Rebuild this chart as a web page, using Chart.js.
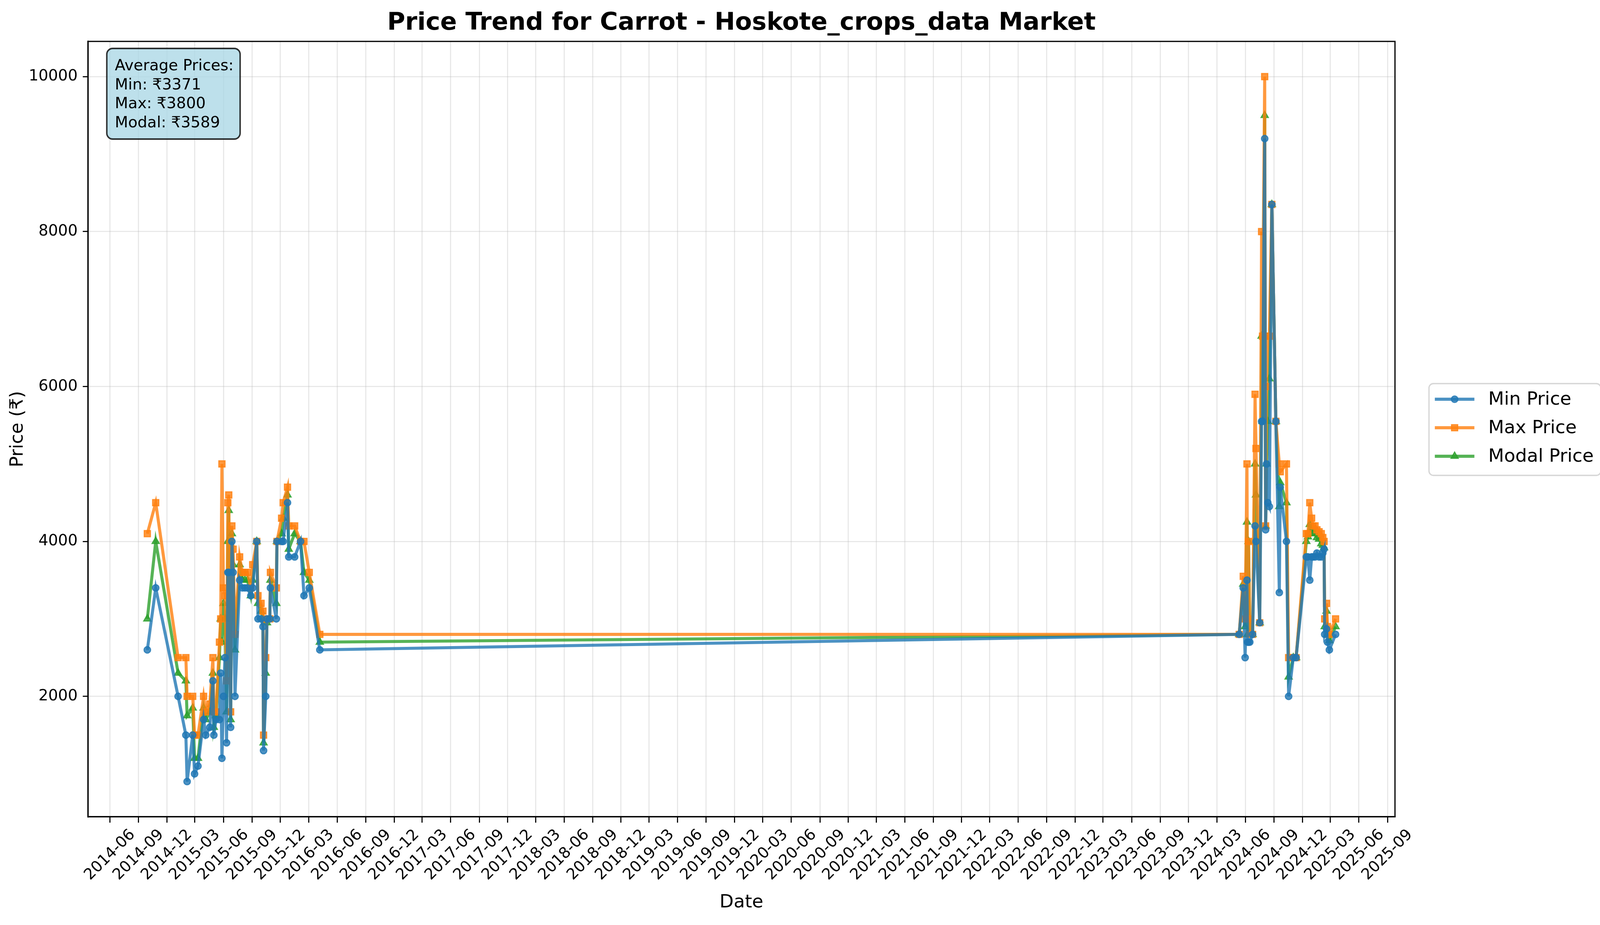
<!DOCTYPE html>
<html>
<head>
<meta charset="utf-8">
<script src="https://cdn.jsdelivr.net/npm/chart.js@4.4.1/dist/chart.umd.min.js"></script>
<style>
  html, body { margin: 0; padding: 0; background: #fff; overflow: hidden; }
  #wrap { position: relative; width: 100vw; height: 100vh; }
</style>
</head>
<body>
<div id="wrap"><canvas id="chart"></canvas></div>
<script>
const chartTitle = 'Price Trend for Carrot - Hoskote_crops_data Market';
const seriesNames = ['Min Price', 'Max Price', 'Modal Price'];
const avgLines = ['Average Prices:', 'Min: ₹3371', 'Max: ₹3800', 'Modal: ₹3589'];

const dates = [
  '2014-09-29','2014-10-26','2015-01-06','2015-01-31','2015-02-04','2015-02-22','2015-02-28','2015-03-11',
  '2015-03-29','2015-04-05','2015-04-18','2015-04-28','2015-05-01','2015-05-08','2015-05-19','2015-05-23',
  '2015-05-27','2015-06-01','2015-06-06','2015-06-11','2015-06-15','2015-06-18','2015-06-24','2015-06-28',
  '2015-07-02','2015-07-08','2015-07-23','2015-08-01','2015-08-09','2015-08-17','2015-08-28','2015-09-03',
  '2015-09-16','2015-09-20','2015-09-30','2015-10-06','2015-10-08','2015-10-15','2015-10-19','2015-10-28',
  '2015-10-30','2015-11-18','2015-11-20','2015-12-05','2015-12-10','2015-12-24','2015-12-28','2016-01-16',
  '2016-02-04','2016-02-15','2016-03-03','2016-04-06',
  '2024-05-12','2024-05-25','2024-05-31','2024-06-06','2024-06-08','2024-06-11','2024-06-15','2024-06-24',
  '2024-07-02','2024-07-05','2024-07-17','2024-07-23','2024-07-26','2024-08-02','2024-08-05','2024-08-08',
  '2024-08-12','2024-08-17','2024-08-25','2024-09-07','2024-09-18','2024-09-21','2024-10-11','2024-10-18',
  '2024-11-02','2024-11-11','2024-12-14','2024-12-19','2024-12-25','2024-12-31','2025-01-05','2025-01-11',
  '2025-01-17','2025-01-24','2025-01-31','2025-02-05','2025-02-09','2025-02-11','2025-02-17','2025-02-20',
  '2025-02-26','2025-03-18'
];

const minPrices = [
  2600,3400,2000,1500,900,1500,1000,1100,
  1700,1500,1600,2200,1500,1700,1700,2300,
  1200,2000,2500,1400,3600,3600,1600,4000,
  3600,2000,3500,3400,3400,3400,3300,3400,
  4000,3000,3000,2900,1300,2000,3000,3000,
  3400,3000,4000,4000,4000,4500,3800,3800,
  4000,3300,3400,2600,
  2800,3400,2500,3500,2700,2700,2700,2800,
  4200,4000,2950,5550,5550,9200,4150,5000,
  4500,4450,8350,5550,3340,4700,4000,2000,
  2500,2500,3800,3800,3500,3800,3800,3800,
  3850,3800,3800,3850,3900,2800,2870,2700,
  2600,2800
];

const maxPrices = [
  4100,4500,2500,2500,2000,2000,1500,1500,
  2000,1800,1900,2500,1800,1800,2700,3000,
  5000,3400,3300,2200,4500,4600,1800,4200,
  3900,2800,3800,3600,3600,3600,3400,3700,
  4000,3300,3200,3100,1500,2500,3000,3000,
  3600,3400,4000,4300,4500,4700,4200,4200,
  4000,4000,3600,2800,
  2800,3550,3000,5000,3000,4000,2800,2800,
  5900,5200,2950,8000,6650,10000,4200,6000,
  6650,6650,8350,5550,5000,4900,5000,2500,
  2500,2500,4100,4100,4500,4300,4200,4200,
  4150,4125,4100,4050,4000,3000,3200,2900,
  2800,3000
];

const modalPrices = [
  3000,4000,2300,2200,1750,1850,1200,1200,
  1850,1700,1800,2300,1600,1750,2500,3000,
  2700,3200,3000,1800,4000,4400,1700,4100,
  3700,2600,3700,3500,3500,3500,3300,3500,
  4000,3200,3100,3000,1400,2300,2950,3000,
  3500,3200,4000,4100,4300,4600,3900,4100,
  4000,3600,3500,2700,
  2800,3450,2900,4250,2800,4000,2800,2800,
  5000,4600,2950,6650,5550,9500,4200,5000,
  5550,6100,8350,5550,4450,4760,4500,2250,
  2500,2500,4000,4060,4220,4150,4100,4100,
  4050,4030,3970,3950,3920,2900,3100,2800,
  2720,2900
];

const tickLabels = [
  '2014-06','2014-09','2014-12','2015-03','2015-06','2015-09','2015-12','2016-03','2016-06','2016-09',
  '2016-12','2017-03','2017-06','2017-09','2017-12','2018-03','2018-06','2018-09','2018-12','2019-03',
  '2019-06','2019-09','2019-12','2020-03','2020-06','2020-09','2020-12','2021-03','2021-06','2021-09',
  '2021-12','2022-03','2022-06','2022-09','2022-12','2023-03','2023-06','2023-09','2023-12','2024-03',
  '2024-06','2024-09','2024-12','2025-03','2025-06','2025-09'
];
const yTicks = [2000, 4000, 6000, 8000, 10000];

const colors = ['rgba(31,119,180,0.8)', 'rgba(255,127,14,0.8)', 'rgba(44,160,44,0.8)'];
const markers = ['circle', 'rect', 'triangle'];

// layout was measured on the 4659x2368 reference; scale it to the actual viewport
const W = window.innerWidth || 4659;
const H = window.innerHeight || 2368;
const SX = W / 4659, SY = H / 2368, SF = Math.sqrt(SX * SY);
const sx = v => v * SX, sy = v => v * SY, sf = v => v * SF;
const markerSizes = [9, 12, 11.5].map(sf);

// date string -> day number
function toDay(s) {
  const p = s.split('-');
  return Date.UTC(+p[0], +p[1] - 1, p[2] ? +p[2] : 1) / 86400000;
}

const days = dates.map(toDay);
const tickDays = tickLabels.map(toDay);
const span = days[days.length - 1] - days[0];
const xMin = days[0] - span * 0.05;
const xMax = days[days.length - 1] + span * 0.05;
const allVals = minPrices.concat(maxPrices, modalPrices);
const vLo = Math.min(...allVals), vHi = Math.max(...allVals);
const yMin = vLo - (vHi - vLo) * 0.05;
const yMax = vHi + (vHi - vLo) * 0.05;

const FONT = 'DejaVu Sans';
Chart.defaults.font.family = FONT;
Chart.defaults.color = '#000';

function makeSet(i, values) {
  return {
    label: seriesNames[i],
    data: values.map((v, k) => ({ x: days[k], y: v })),
    borderColor: colors[i],
    backgroundColor: colors[i],
    pointBackgroundColor: colors[i],
    pointBorderColor: colors[i],
    borderWidth: sf(8.3),
    pointStyle: markers[i],
    pointRadius: markerSizes[i],
    pointBorderWidth: sf(3),
    tension: 0
  };
}

const decor = {
  id: 'decor',
  afterDraw(chart) {
    const ctx = chart.ctx;
    const a = chart.chartArea;
    ctx.save();

    // frame
    ctx.strokeStyle = '#000';
    ctx.lineWidth = sf(3.3);
    ctx.strokeRect(a.left, a.top, a.right - a.left, a.bottom - a.top);

    // title
    ctx.fillStyle = '#000';
    ctx.font = 'bold ' + sf(67) + 'px "' + FONT + '"';
    ctx.textAlign = 'center';
    ctx.textBaseline = 'middle';
    ctx.fillText(chartTitle, (a.left + a.right) / 2, sy(60));

    // average box
    const bx = sx(311), by = sy(124);
    ctx.beginPath();
    ctx.roundRect(bx, by, sf(364), sy(232), sf(16));
    ctx.fillStyle = 'rgba(173,216,230,0.8)';
    ctx.fill();
    ctx.strokeStyle = 'rgba(0,0,0,0.8)';
    ctx.lineWidth = sf(4);
    ctx.stroke();
    ctx.fillStyle = '#000';
    ctx.font = sf(42) + 'px "' + FONT + '"';
    ctx.textAlign = 'left';
    ctx.textBaseline = 'alphabetic';
    avgLines.forEach((t, i) => ctx.fillText(t, bx + sf(22), by + sy(56 + i * 48.5)));

    // legend
    const lx = sx(4161), ly = sy(982);
    ctx.beginPath();
    ctx.roundRect(lx, ly, sf(469), sy(235), sf(12));
    ctx.fillStyle = 'rgba(255,255,255,0.8)';
    ctx.fill();
    ctx.strokeStyle = 'rgba(204,204,204,0.8)';
    ctx.lineWidth = sf(3.5);
    ctx.stroke();
    ctx.font = sf(50) + 'px "' + FONT + '"';
    ctx.textBaseline = 'middle';
    seriesNames.forEach((name, i) => {
      const y = ly + sy(40 + i * 73);
      ctx.strokeStyle = colors[i];
      ctx.fillStyle = colors[i];
      ctx.lineWidth = sf(8.3);
      ctx.beginPath();
      ctx.moveTo(lx + sf(16), y);
      ctx.lineTo(lx + sf(124), y);
      ctx.stroke();
      ctx.lineWidth = sf(3);
      Chart.helpers.drawPoint(ctx, { pointStyle: markers[i], radius: markerSizes[i], borderWidth: sf(3), rotation: 0 }, lx + sf(70), y);
      ctx.fillStyle = '#000';
      ctx.fillText(name, lx + sf(162), y + sf(2));
    });

    ctx.restore();
  }
};

new Chart(document.getElementById('chart'), {
  type: 'line',
  data: {
    datasets: [makeSet(0, minPrices), makeSet(1, maxPrices), makeSet(2, modalPrices)]
  },
  options: {
    responsive: true,
    maintainAspectRatio: false,
    animation: false,
    layout: { padding: { top: sy(106), right: sx(597), left: 0, bottom: 0 } },
    plugins: {
      legend: { display: false },
      title: { display: false },
      tooltip: { enabled: false }
    },
    scales: {
      x: {
        type: 'linear',
        min: xMin,
        max: xMax,
        afterBuildTicks: axis => { axis.ticks = tickDays.map(v => ({ value: v })); },
        afterFit: s => { s.height = sy(277); },
        ticks: {
          autoSkip: false,
          minRotation: 45,
          maxRotation: 45,
          labelOffset: sf(62),
          padding: sy(8),
          font: { size: sf(42) },
          color: '#000',
          callback: (v, i) => tickLabels[i]
        },
        grid: {
          color: 'rgba(176,176,176,0.3)',
          lineWidth: sf(3),
          tickLength: sy(15),
          tickColor: '#000',
          tickWidth: sf(3)
        },
        border: { color: '#000', width: sf(3.3) },
        title: { display: true, text: 'Date', font: { size: sf(50) }, color: '#000', padding: { top: 0, bottom: sy(29) } }
      },
      y: {
        min: yMin,
        max: yMax,
        afterBuildTicks: axis => { axis.ticks = yTicks.map(v => ({ value: v })); },
        afterFit: s => { s.width = sx(256); },
        ticks: {
          padding: sx(15),
          font: { size: sf(42) },
          color: '#000',
          callback: v => String(v)
        },
        grid: {
          color: 'rgba(176,176,176,0.3)',
          lineWidth: sf(3),
          tickLength: sx(15),
          tickColor: '#000',
          tickWidth: sf(3)
        },
        border: { color: '#000', width: sf(3.3) },
        title: { display: true, text: 'Price (₹)', font: { size: sf(50) }, color: '#000', padding: { top: sx(20), bottom: 0 } }
      }
    }
  },
  plugins: [decor]
});
</script>
</body>
</html>
